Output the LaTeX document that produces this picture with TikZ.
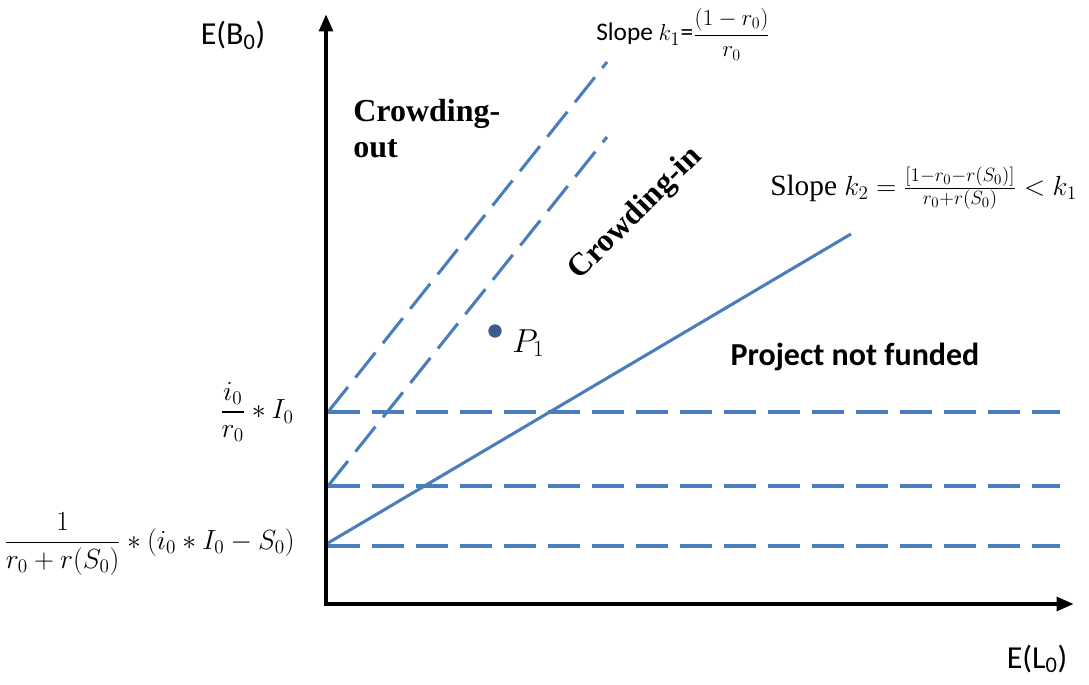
\documentclass[tikz,border=0pt]{standalone}
\usepackage{amsmath}
\usepackage{fontspec}
\setmainfont{Liberation Serif}
\newfontfamily\calibri{Carlito}
\usetikzlibrary{arrows.meta}
\definecolor{lineblue}{RGB}{74,126,187}
\definecolor{dotblue}{RGB}{56,93,138}
\begin{document}
\begin{tikzpicture}[x=0.75pt, y=-0.75pt, line join=round, >={Triangle[length=13pt,width=10pt]},
	axis/.style={line width=3.4pt, line cap=rect, ->},
	dashline/.style={lineblue, line width=2.3pt, dash pattern=on 24pt off 9pt},
	fullline/.style={lineblue, line width=2.3pt},
	region/.style={inner sep=0pt, font=\fontsize{24}{27}\selectfont\bfseries},
	axlabel/.style={inner sep=0pt, anchor=base, font=\calibri\fontsize{24}{28}\selectfont},
	mathlabel/.style={inner sep=0pt, anchor=east, font=\fontsize{20}{24}\selectfont}]
	\useasboundingbox (0,0) rectangle (1089,685);
	\path
	(326,604) coordinate (O)
	(326,14) coordinate (Ytop)
	(1074,604) coordinate (Xend)
	(328,412) coordinate (H1) (1060,412) coordinate (H1e)
	(328,486) coordinate (H2) (1060,486) coordinate (H2e)
	(328,546) coordinate (H3) (1060,546) coordinate (H3e)
	(328,543) coordinate (S0)
	(607,62) coordinate (D1)
	(607,137) coordinate (D2)
	(851,234) coordinate (S1)
	;
	% thresholds
	\draw[dashline] (H1)--(H1e);
	\draw[dashline] (H2)--(H2e);
	\draw[dashline] (H3)--(H3e);
	\draw[dashline] (H1)--(D1);
	\draw[dashline] (H2)--(D2);
	\draw[fullline] (S0)--(S1);
	% axes
	\draw[axis] (O)--(Ytop);
	\draw[axis] (O)--(Xend);
	\node[axlabel] (EB) at (233,45) {E(B\textsubscript{0})};
	\node[axlabel] (EL) at (1037,668) {E(L\textsubscript{0})};
	% regions
	\node[region, anchor=north west, align=left] (out) at (353,99) {Crowding-\\out};
	\node[region, rotate=45] (in) at (636,214) {Crowding-in};
	\node[inner sep=0pt, font=\calibri\bfseries\fontsize{24}{28}\selectfont] (nf) at (855,357) {Project not funded};
	% point
	\node[circle, fill=dotblue, inner sep=0pt, minimum size=10pt] (P1) at (495,331) {};
	\node[inner sep=0pt, anchor=base west, font=\fontsize{25}{29}\selectfont] (P1lab) at (512,352) {$P_1$};
	% slopes
	\node[inner sep=0pt, anchor=base west, font=\calibri\fontsize{19}{22}\selectfont] (k1) at (596,41)
		{Slope $k_1$={\fontsize{17}{20}\selectfont$\dfrac{(1-r_0)}{r_0}$}};
	\node[inner sep=0pt, anchor=base west, font=\fontsize{22}{26}\selectfont] (k2) at (770,195)
		{Slope $\thickmuskip=5mu k_2=\frac{[1-r_0-r(S_0)]}{r_0+r(S_0)}<k_1$};
	% intercepts
	\node[mathlabel] (i1) at (294,412) {$\dfrac{i_0}{r_0}*I_0$};
	\node[mathlabel] (i3) at (295,544) {$\dfrac{1}{r_0+r(S_0)}*(i_0*I_0-S_0)$};
\end{tikzpicture}
\end{document}
